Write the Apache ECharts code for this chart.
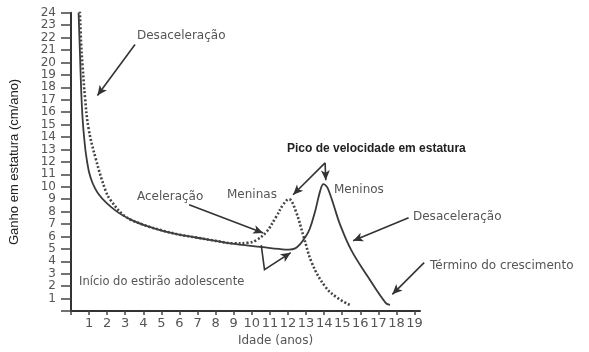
<!DOCTYPE html>
<html><head><meta charset="utf-8">
<script src="https://cdn.jsdelivr.net/npm/echarts@6/dist/echarts.min.js"></script>
<style>html,body{margin:0;padding:0;background:#fff}#c{width:589px;height:352px}</style>
</head><body><div id="c"></div>
<script>
// ---- data ----
const boysAge  = [0.42,0.5,0.57,0.64,0.73,0.86,1.09,1.54,2.45,3.36,4.5,5.71,6.98,8.8,10.6,11.5,12.06,12.4,12.65,12.96,13.2,13.51,13.78,13.96,14.15,14.3,14.51,14.87,15.5,16.41,17.4,17.64];
const boysGain = [24.0,20.5,17.5,15.5,13.9,12.3,10.7,9.38,8.1,7.32,6.7,6.23,5.9,5.45,5.15,5.0,4.95,5.05,5.35,5.96,6.6,8.08,9.67,10.22,10.0,9.5,8.6,7.0,4.9,2.78,0.66,0.5];
const girlsAge  = [0.49,0.56,0.64,0.78,0.97,1.36,1.91,2.2,3.0,4.0,5.0,6.0,7.0,8.0,9.0,9.8,10.24,10.8,11.33,11.75,12.05,12.42,12.87,13.33,14.05,14.7,15.41];
const girlsGain = [24.1,21.5,19.7,17.1,14.7,12.3,9.7,8.9,7.62,6.95,6.5,6.15,5.9,5.65,5.45,5.5,5.7,6.36,7.55,8.6,9.0,8.08,5.96,3.84,1.98,1.1,0.5];
const xTickLabels = ['1','2','3','4','5','6','7','8','9','10','11','12','13','14','15','16','17','18','19'];
const yTickLabels = ['1','2','3','4','5','6','7','8','9','10','11','12','13','14','15','16','17','18','19','20','21','22','23','24'];
const xTitle = 'Idade (anos)';
const yTitle = 'Ganho em estatura (cm/ano)';
// annotation arrows in data coordinates (arrowhead at last point)
const arrowPaths = [
  [[3.54,21.44],[1.46,17.34]],
  [[14.05,11.92],[12.28,9.36]],
  [[14.05,11.92],[14.09,10.52]],
  [[6.53,8.55],[10.63,6.29]],
  [[10.52,5.31],[10.7,3.33],[12.15,4.7]],
  [[18.67,7.5],[15.6,5.65]],
  [[19.53,3.9],[17.77,1.35]]
];
const notes = [
  {text:'Desaceleração', x:137, y:36},
  {text:'Pico de velocidade em estatura', x:287, y:149, bold:true},
  {text:'Meninas', x:227, y:195},
  {text:'Meninos', x:334, y:190},
  {text:'Aceleração', x:137, y:197},
  {text:'Início do estirão adolescente', x:79, y:282, size:11.5},
  {text:'Desaceleração', x:413, y:217},
  {text:'Término do crescimento', x:430, y:266}
];

const zip = (a,b)=>a.map((v,i)=>[v,b[i]]);
const chart = echarts.init(document.getElementById('c'), null, {renderer:'canvas'});
chart.setOption({
  animation:false,
  backgroundColor:'#fff',
  grid:{left:64, right:169, top:12.7, bottom:36.7, containLabel:false},
  xAxis:{
    type:'value', min:0, max:19.3, interval:1,
    axisLine:{show:true, onZero:false, lineStyle:{color:'#333', width:2}},
    axisTick:{show:true, length:4, lineStyle:{color:'#444', width:1.5}},
    axisLabel:{margin:6, color:'#555', fontFamily:'DejaVu Sans', fontSize:13,
      showMaxLabel:false, hideOverlap:false,
      formatter:v=> (Number.isInteger(v) && v>=1 && v<=19) ? xTickLabels[v-1] : ''},
    splitLine:{show:false},
    name:xTitle, nameLocation:'middle', nameGap:20,
    nameTextStyle:{color:'#555', fontFamily:'DejaVu Sans', fontSize:12, padding:[0,0,0,60]}
  },
  yAxis:{
    type:'value', min:0, max:24, interval:1,
    axisLine:{show:true, onZero:false, lineStyle:{color:'#333', width:2}},
    axisTick:{show:true, length:10, lineStyle:{color:'#444', width:1.5}},
    axisLabel:{margin:15, color:'#555', fontFamily:'DejaVu Sans', fontSize:12,
      formatter:v=> (Number.isInteger(v) && v>=1) ? yTickLabels[v-1] : ''},
    splitLine:{show:false},
    name:yTitle, nameLocation:'middle', nameGap:50,
    nameTextStyle:{color:'#222', fontFamily:'Liberation Sans', fontSize:13}
  },
  series:[
    {name:'Meninos', type:'line', data:zip(boysAge,boysGain), showSymbol:false, smooth:0.4,
     lineStyle:{color:'#3a3a3a', width:1.8}, silent:true, z:3},
    {name:'Meninas', type:'line', data:zip(girlsAge,girlsGain), showSymbol:false, smooth:0.4,
     lineStyle:{color:'#444', width:2.6, type:[2,2]}, silent:true, z:4}
  ]
});

// annotations
const g = [];
arrowPaths.forEach(path=>{
  const pts = path.map(p=>chart.convertToPixel({gridIndex:0}, p));
  g.push({type:'polyline', shape:{points:pts}, style:{stroke:'#333', lineWidth:1.6, fill:null}, silent:true, z:10});
  const a = pts[pts.length-2], b = pts[pts.length-1];
  const dx=b[0]-a[0], dy=b[1]-a[1], L=Math.hypot(dx,dy), ux=dx/L, uy=dy/L;
  const len=10, hw=4.5;
  const bx=b[0]-ux*len, by=b[1]-uy*len;
  const back=b[0]-ux*len*0.75, backy=b[1]-uy*len*0.75;
  g.push({type:'polygon', shape:{points:[[b[0],b[1]],[bx-uy*hw,by+ux*hw],[back,backy],[bx+uy*hw,by-ux*hw]]},
    style:{fill:'#333'}, silent:true, z:11});
});
notes.forEach(n=>{
  g.push({type:'text', x:n.x, y:n.y, silent:true, z:12,
    style:{text:n.text, fill:n.bold?'#222':'#555', verticalAlign:'middle', align:'left',
      font:(n.bold?'bold ':'')+(n.size||12)+'px '+(n.bold?'"Liberation Sans"':'"DejaVu Sans"')}});
});
chart.setOption({graphic:g});
</script>
</body></html>
